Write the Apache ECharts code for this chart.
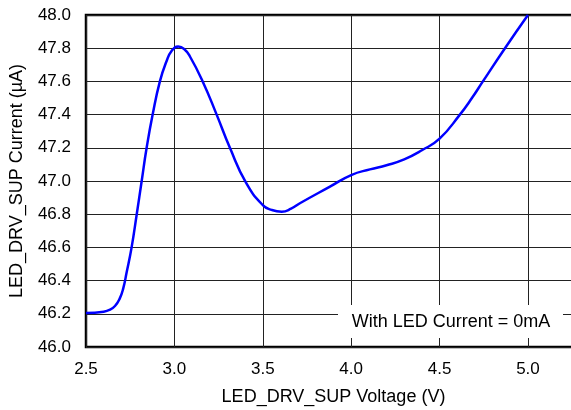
<!DOCTYPE html>
<html>
<head>
<meta charset="utf-8">
<script src="https://cdn.jsdelivr.net/npm/echarts@6/dist/echarts.min.js"></script>
<style>
html,body{margin:0;padding:0;background:#fff;}
#chart{width:571px;height:410px;}
</style>
</head>
<body>
<div id="chart"></div>
<script>
const voltage = [2.5, 2.6, 2.636, 2.664, 2.69, 2.71, 2.73, 2.758, 2.787, 2.815, 2.843, 2.877, 2.918, 2.955, 2.985, 3.022, 3.055, 3.088, 3.16, 3.239, 3.314, 3.405, 3.5, 3.55, 3.607, 3.66, 3.71, 3.88, 4.0, 4.106, 4.2, 4.3, 4.4, 4.5, 4.615, 4.682, 4.745, 4.87, 5.0];
const current = [46.205, 46.213, 46.225, 46.247, 46.29, 46.35, 46.45, 46.60, 46.80, 47.00, 47.20, 47.40, 47.60, 47.72, 47.785, 47.81, 47.795, 47.75, 47.60, 47.40, 47.20, 46.99, 46.855, 46.826, 46.815, 46.833, 46.866, 46.966, 47.036, 47.07, 47.095, 47.13, 47.185, 47.255, 47.40, 47.498, 47.60, 47.80, 48.0];
const xTitle = 'LED_DRV_SUP Voltage (V)';
const yTitle = 'LED_DRV_SUP Current (µA)';
const noteText = 'With LED Current = 0mA';

const FONT = '"Liberation Sans", Arial, sans-serif';
const chart = echarts.init(document.getElementById('chart'), null, {renderer: 'canvas'});
chart.setOption({
  animation: false,
  backgroundColor: '#fff',
  grid: {left: 86, top: 15, right: -10, bottom: 63, outerBoundsMode: 'none', containLabel: false, show: true, borderColor: '#000', borderWidth: 2.5, backgroundColor: 'transparent'},
  xAxis: {
    type: 'value', min: 2.5, max: 5.3, interval: 0.5,
    name: xTitle, nameLocation: 'middle', nameGap: 41,
    nameTextStyle: {fontFamily: FONT, fontSize: 18, color: '#000'},
    axisLine: {show: false},
    axisTick: {show: false},
    axisLabel: {showMaxLabel: false, margin: 14, fontFamily: FONT, fontSize: 17, color: '#000', formatter: v => v.toFixed(1)},
    splitLine: {show: true, lineStyle: {color: '#222', width: 1}}
  },
  yAxis: {
    type: 'value', min: 46.0, max: 48.0, interval: 0.2,
    name: yTitle, nameLocation: 'middle', nameGap: 60,
    nameTextStyle: {fontFamily: FONT, fontSize: 18, color: '#000'},
    axisLine: {show: false},
    axisTick: {show: false},
    axisLabel: {margin: 15, fontFamily: FONT, fontSize: 17, color: '#000', formatter: v => v.toFixed(1)},
    splitLine: {show: true, lineStyle: {color: '#222', width: 1}}
  },
  graphic: [
    {type: 'rect', z: 100, shape: {x: 338, y: 305, width: 225, height: 33}, style: {fill: '#fff'}},
    {type: 'text', z: 101, x: 451, y: 322, style: {text: noteText, fontFamily: FONT, fontSize: 18, fill: '#000', align: 'center', verticalAlign: 'middle'}}
  ],
  series: [{
    type: 'line',
    data: voltage.map((v, i) => [v, current[i]]),
    smooth: 0.5,
    showSymbol: false,
    lineStyle: {color: '#0000ff', width: 2.5},
    z: 5
  }]
});
</script>
</body>
</html>
